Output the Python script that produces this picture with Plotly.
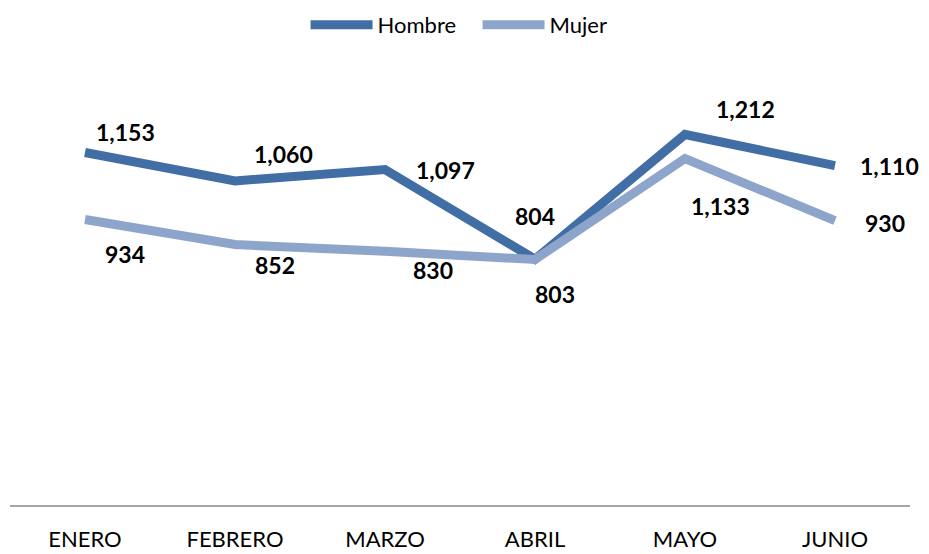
import plotly.graph_objects as go

meses = ["ENERO", "FEBRERO", "MARZO", "ABRIL", "MAYO", "JUNIO"]
hombre = [1153, 1060, 1097, 804, 1212, 1110]
mujer = [934, 852, 830, 803, 1133, 930]

# desplazamiento de las etiquetas (px) respecto al punto
off_hombre = [(40, 21), (48, 27), (60, 0), (0, 43), (60, 25), (54, 0)]
off_mujer = [(40, -35), (40, -20), (48, -19), (20, -34), (35, -47), (50, -2)]

fig = go.Figure()
fig.add_trace(go.Scatter(x=meses, y=hombre, name="Hombre", mode="lines",
                         line=dict(color="#426EA6", width=9)))
fig.add_trace(go.Scatter(x=meses, y=mujer, name="Mujer", mode="lines",
                         line=dict(color="#8EA5CB", width=9)))

for serie, offs in [(hombre, off_hombre), (mujer, off_mujer)]:
    for m, v, (dx, dy) in zip(meses, serie, offs):
        fig.add_annotation(x=m, y=v, text=f"{v:,}", showarrow=False,
                           xshift=dx, yshift=dy,
                           font=dict(size=23, color="black",
                                     family="Lato", weight="bold"))

# la pagina html deja 8px de margen en el body
fig.update_layout(
    width=921, height=546,
    margin=dict(l=2, r=19, t=69, b=46),
    plot_bgcolor="white", paper_bgcolor="white",
    font=dict(family="Lato", size=21, color="black"),
    showlegend=True,
    legend=dict(orientation="h", x=0.5195, xanchor="center", y=0.969,
                yref="container", yanchor="middle", itemwidth=62,
                entrywidth=95, font=dict(size=22)),
    xaxis=dict(range=[-0.5, 5.5], showgrid=False, showline=True,
               linecolor="#A6A6A6", linewidth=2, ticks="",
               ticklabelstandoff=14, tickfont=dict(size=22)),
    yaxis=dict(range=[0, 1400], visible=False),
)

fig.write_html("out.html")
